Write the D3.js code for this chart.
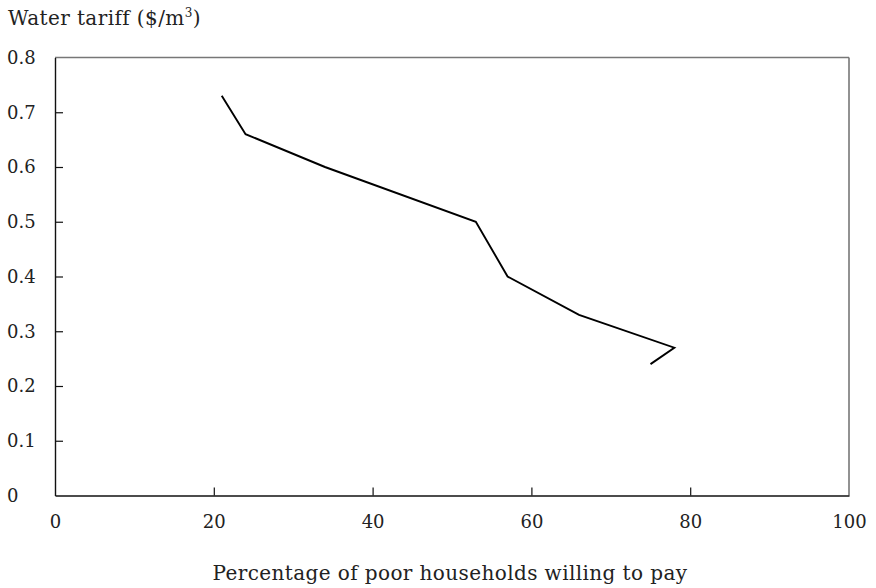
<!DOCTYPE html>
<html><head><meta charset="utf-8">
<script src="https://cdn.jsdelivr.net/npm/d3@7"></script>
<style>body{margin:0;background:#fff}svg{display:block}text{font-family:"DejaVu Serif","Liberation Serif",serif;fill:#222}</style>
</head><body>
<svg id="c" width="876" height="588"></svg>
<script>
const percentWilling = [21, 24, 34, 53, 57, 66, 78, 75];
const tariff = [0.73, 0.66, 0.60, 0.50, 0.40, 0.33, 0.27, 0.24];
const xTicks = [0, 20, 40, 60, 80, 100];
const yTicks = [0, 0.1, 0.2, 0.3, 0.4, 0.5, 0.6, 0.7, 0.8];
const yTitle = "Water tariff ($/m";
const xTitle = "Percentage of poor households willing to pay";

const svg = d3.select("#c");
const L = 55, R = 849, T = 57.5, B = 495.5;
const x = d3.scaleLinear().domain([0, 100]).range([L, R]);
const y = d3.scaleLinear().domain([0, 0.8]).range([B, T]);

svg.append("line").attr("x1", L).attr("x2", R).attr("y1", T).attr("y2", T).attr("stroke", "#777").attr("stroke-width", 1.6);
svg.append("line").attr("x1", R).attr("x2", R).attr("y1", T).attr("y2", B).attr("stroke", "#777").attr("stroke-width", 1.6);

const xa = svg.append("g").attr("transform", `translate(0,${B})`)
  .call(d3.axisBottom(x).tickValues(xTicks).tickSizeInner(-8).tickSizeOuter(0).tickPadding(20).tickFormat(d3.format("d")));
const ya = svg.append("g").attr("transform", `translate(${L},0)`)
  .call(d3.axisLeft(y).tickValues(yTicks).tickSizeInner(-8).tickSizeOuter(0).tickPadding(18).tickFormat(d => d === 0 ? "0" : d3.format(".1f")(d)));
[xa, ya].forEach(a => {
  a.select(".domain").attr("stroke", "#111").attr("stroke-width", 1.4);
  a.selectAll(".tick line").attr("stroke", "#111").attr("stroke-width", 1.2);
  a.selectAll(".tick text").style("font-size", "18px").style("font-family", "'DejaVu Serif', serif").attr("fill", "#222");
});
xa.selectAll(".tick").filter(d => d === 0 || d === 100).select("line").remove();
ya.selectAll(".tick").filter(d => d === 0 || d === 0.8).select("line").remove();
ya.selectAll(".tick text").attr("text-anchor", "start").attr("x", -L + 7);

const line = d3.line().x(d => x(d[0])).y(d => y(d[1]));
svg.append("path").datum(percentWilling.map((p, i) => [p, tariff[i]]))
  .attr("d", line).attr("fill", "none").attr("stroke", "#000").attr("stroke-width", 1.9);

const t = svg.append("text").attr("x", 8).attr("y", 25).style("font-size", "20px").style("letter-spacing", "0.4px");
t.append("tspan").text(yTitle);
t.append("tspan").text("3").attr("dy", -8).style("font-size", "12px");
t.append("tspan").text(")").attr("dy", 8);

svg.append("text").attr("x", 450).attr("y", 580).attr("text-anchor", "middle")
  .style("font-size", "20px").style("letter-spacing", "0.4px").text(xTitle);
</script>
</body></html>
